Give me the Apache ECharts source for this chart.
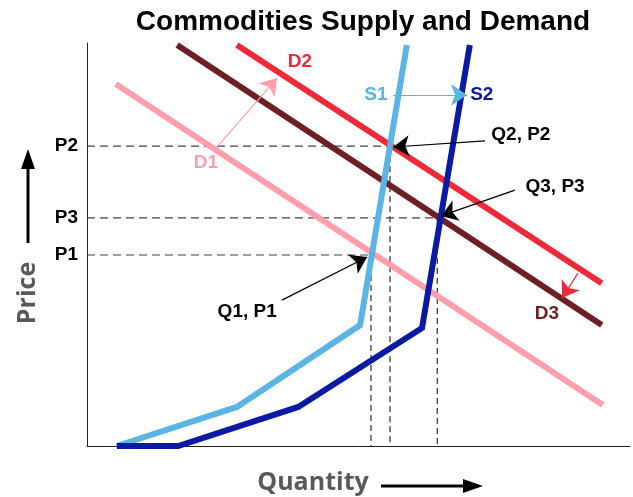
<!DOCTYPE html>
<html>
<head>
<meta charset="utf-8">
<script src="https://cdn.jsdelivr.net/npm/echarts@6/dist/echarts.min.js"></script>
<style>html,body{margin:0;padding:0;background:#fff}#c{width:633px;height:497px}</style>
</head>
<body>
<div id="c"></div>
<script>
// Curves in chart units (x: quantity 0-100, y: price 0-100)
const D1 = [[5.3, 89.8], [95.0, 10.2]];
const D2 = [[27.6, 99.5], [94.8, 40.4]];
const D3 = [[16.6, 99.5], [94.8, 30.0]];
const S1 = [[5.5, 0], [27.6, 9.7], [50.3, 30.0], [58.9, 99.5]];
const S2 = [[5.5, 0], [16.8, 0], [38.9, 9.7], [61.7, 29.3], [70.5, 99.5]];
// Equilibrium points
const eqNames = ['Q1, P1', 'Q2, P2', 'Q3, P3'];
const eqPoints = [[52.3, 47.4], [55.8, 74.4], [64.5, 56.6]];
const priceLabels = ['P1', 'P2', 'P3'];
// Annotation arrows [from, to, colour]
const arrows = [
  [[56.4, 87.1], [70.0, 87.1], '#5ab4e4'],
  [[24.1, 74.4], [35.0, 91.3], '#ff9fae'],
  [[90.4, 42.9], [87.5, 36.7], '#ee2a3a'],
  [[73.3, 75.7], [56.4, 74.2], '#000'],
  [[78.8, 63.5], [65.2, 57.1], '#000'],
  [[35.9, 36.2], [51.6, 46.9], '#000']
];
// Text labels [x, y, text, colour]
const labels = [
  [39.2, 95.3, 'D2', '#ee2a3a'],
  [53.2, 87.1, 'S1', '#5ab4e4'],
  [72.7, 87.1, 'S2', '#0a1aa5'],
  [21.9, 70.2, 'D1', '#ff9fae'],
  [84.7, 32.8, 'D3', '#6e1f24'],
  [79.9, 77.2, 'Q2, P2', '#000'],
  [86.2, 64.3, 'Q3, P3', '#000'],
  [29.5, 33.3, 'Q1, P1', '#000']
];

const chart = echarts.init(document.getElementById('c'));
const F = '"Liberation Sans", Arial, sans-serif';
function curve(name, data, color) {
  return {type: 'line', name, data, symbol: 'none', silent: true, z: 3,
    lineStyle: {color, width: 6, cap: 'butt', join: 'miter', opacity: 1}};
}
const dashed = [];
eqPoints.forEach(p => {
  dashed.push({type: 'line', data: [[0, p[1]], p], symbol: 'none', silent: true, z: 2,
    lineStyle: {color: '#444', width: 1.2, type: [8, 5]}});
  dashed.push({type: 'line', data: [p, [p[0], 0]], symbol: 'none', silent: true, z: 2,
    lineStyle: {color: '#000', width: 1, type: [6, 4]}});
});
const pl = priceLabels.map((t, i) => {
  const p = eqPoints[i];
  return {value: [0, p[1]], name: t};
});
chart.setOption({
  animation: false,
  title: {text: 'Commodities Supply and Demand', left: 358, top: 3, textAlign: 'center',
    textStyle: {fontFamily: F, fontWeight: 900, fontSize: 28, color: '#000'}},
  grid: {left: 87, right: 3, top: 43, bottom: 51},
  xAxis: {type: 'value', min: 0, max: 100, splitLine: {show: false}, axisTick: {show: false},
    axisLabel: {show: false}, axisLine: {lineStyle: {color: '#222', width: 1}}},
  yAxis: {type: 'value', min: 0, max: 100, splitLine: {show: false}, axisTick: {show: false},
    axisLabel: {show: false}, axisLine: {show: true, lineStyle: {color: '#222', width: 1}}},
  series: [
    ...dashed,
    curve('D1', D1, '#ff9fae'),
    curve('D3', D3, '#6e1f24'),
    curve('D2', D2, '#ee2a3a'),
    curve('S1', S1, '#5ab4e4'),
    curve('S2', S2, '#0a1aa5'),
    {type: 'lines', coordinateSystem: 'cartesian2d', silent: true, z: 5,
      symbol: ['none', 'arrow'], symbolSize: [9, 16],
      data: arrows.map(a => ({coords: [a[0], a[1]], lineStyle: {color: a[2], width: 1.2, opacity: 1, curveness: 0}}))},
    {type: 'scatter', symbolSize: 0, silent: true, z: 6,
      itemStyle: {opacity: 1},
      data: labels.map(l => ({value: [l[0], l[1]], name: l[2],
        label: {color: l[3]}})),
      label: {show: true, position: 'inside', formatter: p => p.name, opacity: 1,
        fontFamily: F, fontWeight: 'bold', fontSize: 19}},
    {type: 'scatter', symbolSize: 0, silent: true, z: 6, data: pl,
      itemStyle: {opacity: 1},
      label: {show: true, position: 'left', distance: 9, formatter: p => p.name, opacity: 1,
        fontFamily: F, fontWeight: 'bold', fontSize: 19, color: '#000'}}
  ],
  graphic: [
    {type: 'text', x: 28, y: 293, rotation: Math.PI / 2,
      style: {text: 'Price', fill: '#595959', font: 'bold 25px "Open Sans", sans-serif',
        textAlign: 'center', textVerticalAlign: 'middle'}},
    {type: 'line', shape: {x1: 28, y1: 243, x2: 28, y2: 166}, style: {stroke: '#000', lineWidth: 3}},
    {type: 'polygon', shape: {points: [[28, 149], [21, 169], [35, 169]]}, style: {fill: '#000'}},
    {type: 'text', x: 313, y: 483,
      style: {text: 'Quantity', fill: '#595959', font: 'bold 25px "Open Sans", sans-serif',
        textAlign: 'center', textVerticalAlign: 'middle'}},
    {type: 'line', shape: {x1: 381, y1: 486, x2: 465, y2: 486}, style: {stroke: '#000', lineWidth: 3}},
    {type: 'polygon', shape: {points: [[483, 486], [463, 479], [463, 493]]}, style: {fill: '#000'}}
  ]
});
</script>
</body>
</html>
